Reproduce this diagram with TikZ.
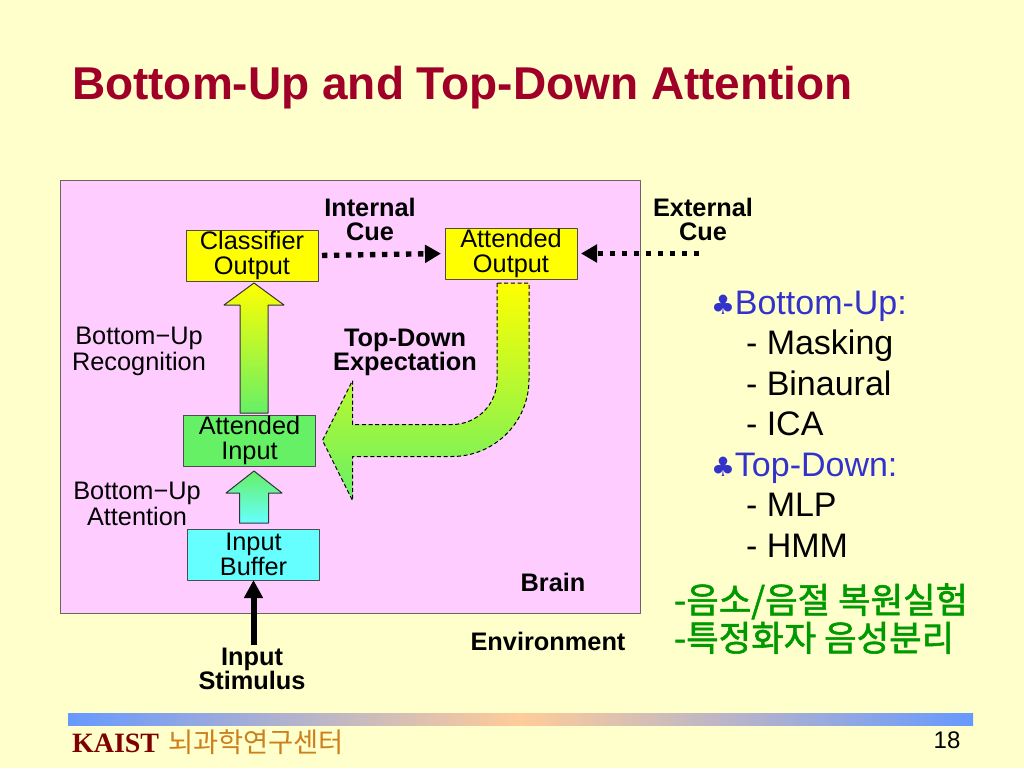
\documentclass[tikz,border=0pt]{standalone}
\usepackage{fontspec}
\setmainfont{Liberation Sans}
\newfontfamily\kaistfont{Liberation Serif}
\newfontfamily\korfont{Noto Sans CJK KR}
\newfontfamily\korheavy[FakeBold=1.6]{Noto Sans CJK KR}
\newfontfamily\symfont{DejaVu Sans}
\usetikzlibrary{arrows.meta,calc}
\definecolor{SlidePaper}{RGB}{255,255,204}
\definecolor{BrainPink}{RGB}{255,204,255}
\definecolor{TitleRed}{RGB}{160,0,40}
\definecolor{BoxYellow}{RGB}{255,255,0}
\definecolor{BoxGreen}{RGB}{102,240,102}
\definecolor{BoxCyan}{RGB}{102,255,255}
\definecolor{ListBlue}{RGB}{51,51,204}
\definecolor{KorGreen}{RGB}{0,153,0}
\definecolor{BarBlue}{RGB}{102,153,255}
\definecolor{BarPeach}{RGB}{255,204,153}
\definecolor{KaistRed}{RGB}{128,0,0}
\definecolor{CenterOrange}{RGB}{204,128,30}
\tikzset{
    slide/diagram/.style={
        x=0.75pt, y=-0.75pt,
        line join=round,
        every node/.style={inner sep=0pt, outer sep=0pt}
    },
    slide/box/.style={
        draw=black!70, line width=0.75pt,
        minimum width=99pt, minimum height=38.25pt,
        align=center, font=\fontsize{19}{18.75}\selectfont
    },
    slide/label/.style={align=center, font=\fontsize{19}{19.5}\selectfont},
    slide/bold/.style={align=center, font=\fontsize{19}{18}\selectfont\bfseries},
    slide/cue/.style={
        draw=black, line width=4pt, dash pattern=on 4pt off 5pt,
        -{Triangle[length=12pt, width=13pt]}
    },
    slide/stimulus/.style={
        draw=black, line width=4.5pt,
        -{Triangle[length=13.5pt, width=13.5pt]}
    },
    slide/block/.style={draw=black!80, line width=0.75pt},
    slide/topdown/.style={
        draw=black, line width=0.75pt, dash pattern=on 3pt off 2pt,
        top color=BoxYellow, bottom color=BoxGreen
    },
    slide/list/.style={anchor=base west, font=\fontsize{25.5}{30}\selectfont},
    slide/korean/.style={anchor=base west, text=KorGreen,
        font=\korheavy\fontsize{26.5}{30}\selectfont}
}

\begin{document}
\begin{tikzpicture}[slide/diagram]
    \useasboundingbox[fill=SlidePaper] (0,0) rectangle (1024,768);

    % title
    \node[anchor=base west, text=TitleRed,
        font=\fontsize{34.5}{40}\selectfont\bfseries] (title) at (72,99)
        {Bottom-Up and Top-Down Attention};

    % brain region
    \draw[fill=BrainPink, draw=black!60, line width=0.75pt] (60,180) rectangle (640,613);

    % boxes
    \node[slide/box, fill=BoxYellow] (clsout) at (252,255.5) {Classifier\\Output};
    \node[slide/box, fill=BoxYellow] (attout) at (511,253.5) {Attended\\Output};
    \node[slide/box, fill=BoxGreen] (attin) at (249.5,440.5) {Attended\\Input};
    \node[slide/box, fill=BoxCyan] (inbuf) at (253.5,554.5) {Input\\Buffer};

    % cues
    \draw[slide/cue, shorten <=3pt, shorten >=3pt] (clsout.east) -- (attout.west);
    \coordinate (extsrc) at ($(attout.east)+(122,0)$);
    \draw[slide/cue, shorten >=3pt] (extsrc) -- (attout.east);
    \node[slide/bold] (intcue) at (370,219) {Internal\\Cue};
    \node[slide/bold] (extcue) at (703,219) {External\\Cue};

    % bottom-up recognition
    \coordinate (rtip) at ($(clsout.south)+(2,2)$);
    \coordinate (rbase) at (rtip |- attin.north);
    \path[slide/block, top color=BoxYellow, bottom color=BoxGreen]
        ($(rbase)+(-14,-2)$) -- ($(rtip)+(-14,22)$) -- ($(rtip)+(-30,22)$)
        -- (rtip) -- ($(rtip)+(30,22)$) -- ($(rtip)+(14,22)$)
        -- ($(rbase)+(14,-2)$) -- cycle;
    \node[slide/label] (burec) at (139,351) {Bottom−Up\\Recognition};

    % bottom-up attention
    \coordinate (atip) at ($(attin.south)+(4.5,5)$);
    \coordinate (abase) at (atip |- inbuf.north);
    \path[slide/block, top color=BoxGreen, bottom color=BoxCyan]
        ($(abase)+(-14.5,-6)$) -- ($(atip)+(-14.5,22)$) -- ($(atip)+(-28,22)$)
        -- (atip) -- ($(atip)+(28,22)$) -- ($(atip)+(14.5,22)$)
        -- ($(abase)+(14.5,-6)$) -- cycle;
    \node[slide/label] (buatt) at (137,504) {Bottom−Up\\Attention};

    % input stimulus
    \coordinate (stimsrc) at ($(inbuf.south)+(0,65)$);
    \draw[slide/stimulus] (stimsrc) -- (inbuf.south);
    \node[slide/bold] (instim) at (252,669) {Input\\Stimulus};

    % top-down expectation
    \coordinate (tds) at ($(attout.south)+(2,4)$);
    \coordinate (tdt) at ($(attin.east)+(7,0)$);
    \coordinate (tdh) at ($(tdt)+(30,0)$);
    \path[slide/topdown]
        ($(tds)+(-16,0)$) -- ($(tds |- tdh)+(-16,-61)$)
        .. controls ($(tds |- tdh)+(-16,-36)$) and ($(tds |- tdh)+(-36,-16)$) .. ($(tds |- tdh)+(-61,-16)$)
        -- ($(tdh)+(0,-16)$) -- ($(tdh)+(0,-60)$) -- (tdt)
        -- ($(tdh)+(0,60)$) -- ($(tdh)+(0,16)$) -- ($(tds |- tdh)+(-61,16)$)
        .. controls ($(tds |- tdh)+(-18.5,16)$) and ($(tds |- tdh)+(16,-18.5)$) .. ($(tds |- tdh)+(16,-61)$)
        -- ($(tds)+(16,0)$) -- cycle;
    \node[slide/bold] (tdexp) at (405,352) {Top-Down\\Expectation};

    \node[slide/bold] (brainlbl) at (553,582) {Brain};
    \node[slide/bold] (envlbl) at (548,641) {Environment};

    % right-hand list
    \node[slide/list, text=ListBlue] (bu) at (711,314)
        {{\symfont\fontsize{20}{20}\selectfont ♣}Bottom-Up:};
    \node[slide/list] (mask) at (746,354.5) {- Masking};
    \node[slide/list] (binau) at (746,395) {- Binaural};
    \node[slide/list] (ica) at (746,435.5) {- ICA};
    \node[slide/list, text=ListBlue] (td) at (711,476)
        {{\symfont\fontsize{20}{20}\selectfont ♣}Top-Down:};
    \node[slide/list] (mlp) at (746,516.5) {- MLP};
    \node[slide/list] (hmm) at (746,557) {- HMM};

    \node[slide/korean] (kor1) at (674,613) {-음소/음절 복원실험};
    \node[slide/korean] (kor2) at (674,651) {-특정화자 음성분리};

    % footer
    \shade[left color=BarBlue, right color=BarBlue, middle color=BarPeach]
        (68,713) rectangle (973,725);
    \node[anchor=base west, text=KaistRed,
        font=\kaistfont\bfseries\fontsize{21}{24}\selectfont] (kaist) at (72,752) {KAIST};
    \node[anchor=base west, text=CenterOrange,
        font=\korfont\fontsize{20.5}{22}\selectfont] (center) at (168,752) {뇌과학연구센터};
    \node[font=\fontsize{18}{20}\selectfont] (pageno) at (947,740) {18};
\end{tikzpicture}
\end{document}
